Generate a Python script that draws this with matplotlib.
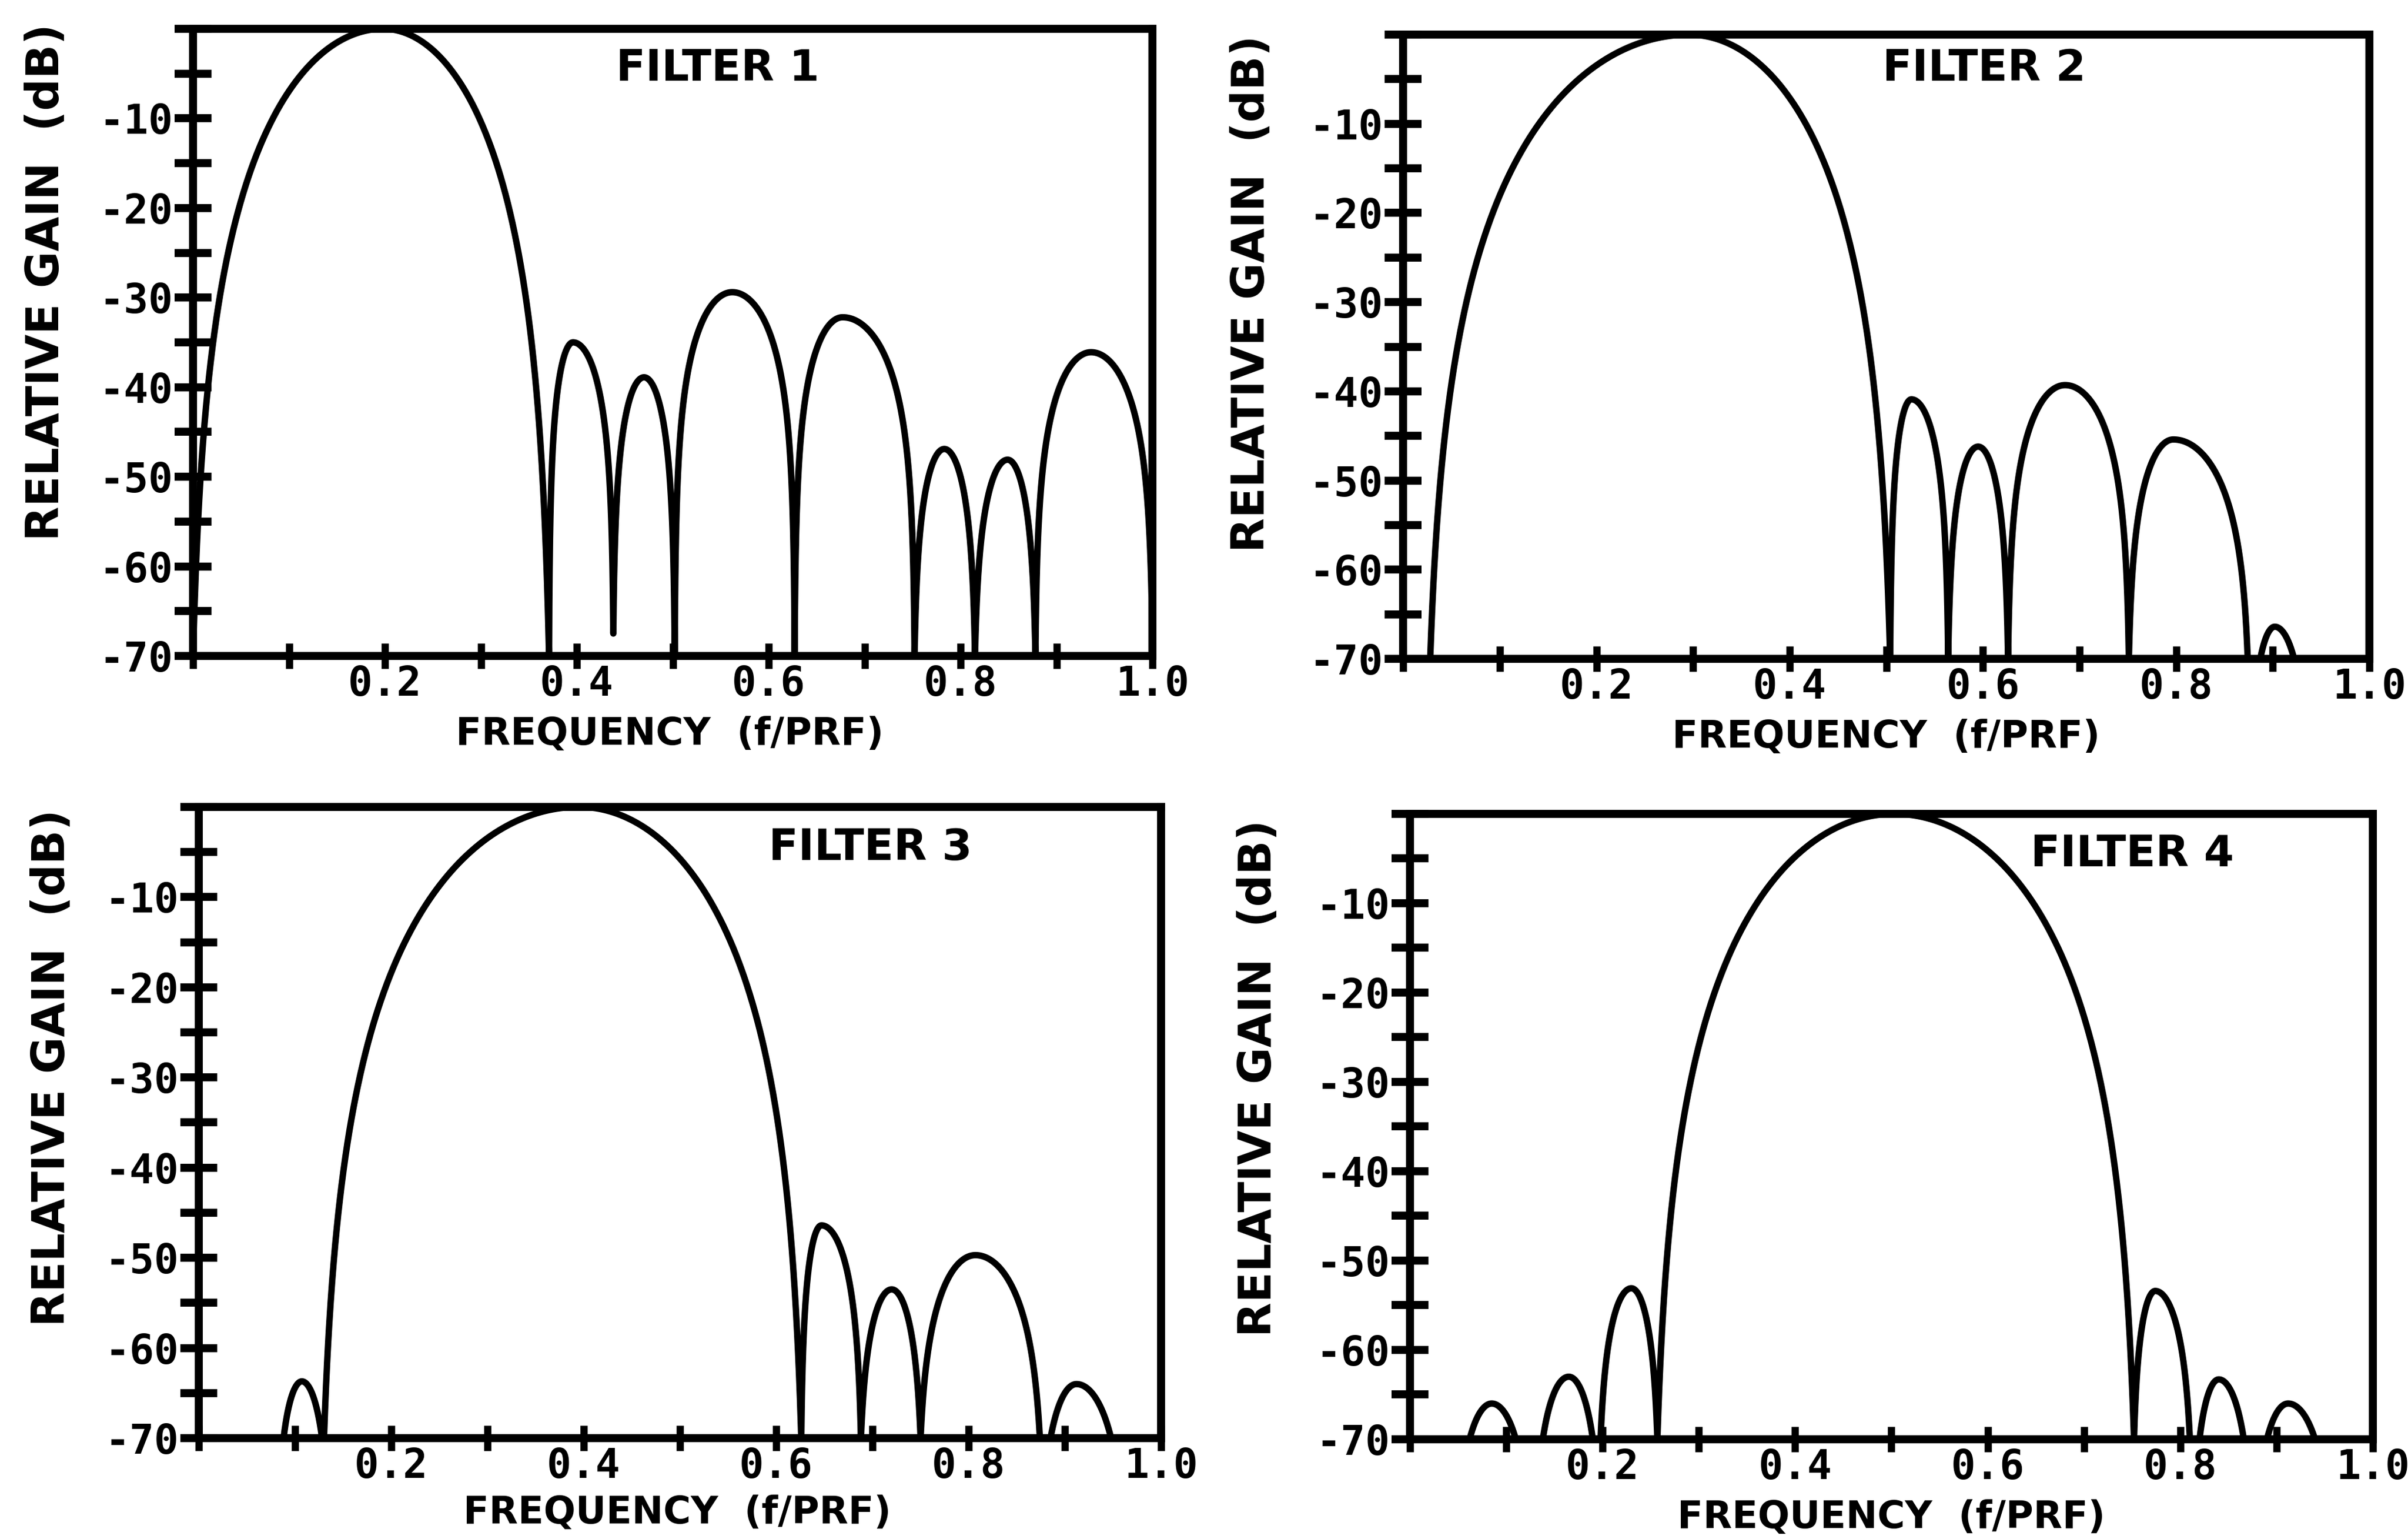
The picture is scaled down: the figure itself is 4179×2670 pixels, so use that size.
import numpy as np
import matplotlib
matplotlib.use('Agg')
import matplotlib.pyplot as plt

plt.rcParams['font.family'] = ['DejaVu Sans Mono']
plt.rcParams['font.weight'] = 'bold'

# Lóbulos:
# inicio / fin = donde la curva toca el piso de -70 dB (o el nulo), pico = posición y nivel
titulos = ['FILTER 1', 'FILTER 2', 'FILTER 3', 'FILTER 4']

f1_inicio = [0.000, 0.371, 0.438, 0.502, 0.627, 0.752, 0.815, 0.878]
f1_fin = [0.371, 0.438, 0.502, 0.627, 0.752, 0.815, 0.878, 1.000]
f1_pico_x = [0.198, 0.396, 0.470, 0.562, 0.677, 0.783, 0.849, 0.936]
f1_pico_db = [0.0, -35.0, -38.9, -29.4, -32.2, -46.9, -48.1, -36.1]

f2_inicio = [0.028, 0.504, 0.564, 0.626, 0.751, 0.887]
f2_fin = [0.504, 0.564, 0.626, 0.751, 0.874, 0.922]
f2_pico_x = [0.296, 0.526, 0.595, 0.685, 0.797, 0.902]
f2_pico_db = [0.0, -40.9, -46.2, -39.3, -45.4, -66.4]

f3_inicio = [0.088, 0.130, 0.626, 0.688, 0.750, 0.885]
f3_fin = [0.128, 0.626, 0.688, 0.750, 0.874, 0.948]
f3_pico_x = [0.107, 0.395, 0.647, 0.720, 0.807, 0.912]
f3_pico_db = [-63.7, 0.0, -46.4, -53.5, -49.7, -64.0]

f4_inicio = [0.062, 0.138, 0.198, 0.257, 0.752, 0.820, 0.890]
f4_fin = [0.110, 0.190, 0.257, 0.752, 0.810, 0.866, 0.940]
f4_pico_x = [0.085, 0.165, 0.230, 0.503, 0.774, 0.840, 0.912]
f4_pico_db = [-66.0, -63.0, -53.1, 0.0, -53.4, -63.3, -66.0]

# nulos que no llegan al piso
f1_nulo_x = [0.438]
f1_nulo_db = [-67.5]

ticks_x = [0.0, 0.1, 0.2, 0.3, 0.4, 0.5, 0.6, 0.7, 0.8, 0.9, 1.0]
etiquetas_x = ['', '', '0.2', '', '0.4', '', '0.6', '', '0.8', '', '1.0']
ticks_y = [-70, -65, -60, -55, -50, -45, -40, -35, -30, -25, -20, -15, -10, -5, 0]
etiquetas_y = ['-70', '', '-60', '', '-50', '', '-40', '', '-30', '', '-20', '', '-10', '', '']

filtros = [
    (f1_inicio, f1_fin, f1_pico_x, f1_pico_db, f1_nulo_x, f1_nulo_db),
    (f2_inicio, f2_fin, f2_pico_x, f2_pico_db, [], []),
    (f3_inicio, f3_fin, f3_pico_x, f3_pico_db, [], []),
    (f4_inicio, f4_fin, f4_pico_x, f4_pico_db, [], []),
]

piso = -70.0
forma_principal = 2.5  # el lóbulo principal cae más rápido que un lóbulo lateral


def lado(x0, x1, yp, y_piso, p, hacia_pico):
    # medio lóbulo: sale del piso en x0 y llega al pico en x1 (o al revés)
    u0 = np.arcsin(10 ** ((y_piso - yp) / (20 * p))) / np.pi
    x = np.linspace(x0, x1, 500)
    if hacia_pico:
        u = u0 + (0.5 - u0) * (x - x0) / (x1 - x0)
    else:
        u = 0.5 + (0.5 - u0) * (x - x0) / (x1 - x0)
    y = yp + p * 20 * np.log10(np.clip(np.sin(np.pi * u), 1e-9, None))
    return x, np.maximum(y, y_piso)


def curva(inicio, fin, pico_x, pico_db, nulo_x, nulo_db):
    xs = [np.array([0.0])]
    ys = [np.array([piso])]
    for a, b, xp, yp in zip(inicio, fin, pico_x, pico_db):
        p = forma_principal if yp == 0 else 1.0
        piso_a = piso
        piso_b = piso
        for nx, nd in zip(nulo_x, nulo_db):
            if abs(nx - a) < 1e-6:
                piso_a = nd
            if abs(nx - b) < 1e-6:
                piso_b = nd
        x1, y1 = lado(a, xp, yp, piso_a, p, True)
        x2, y2 = lado(xp, b, yp, piso_b, p, False)
        xs += [x1, x2]
        ys += [y1, y2]
    xs.append(np.array([1.0]))
    ys.append(np.array([piso]))
    return np.concatenate(xs), np.concatenate(ys)


fig = plt.figure(figsize=(41.79, 26.70), dpi=100)

posiciones = [
    [0.0802, 0.5738, 0.3984, 0.4075],
    [0.5827, 0.5719, 0.4013, 0.4056],
    [0.0826, 0.0655, 0.3996, 0.4102],
    [0.5855, 0.0648, 0.3999, 0.4064],
]
pos_titulo = [(0.547, 0.936), (0.601, 0.945), (0.698, 0.935), (0.750, 0.935)]
pos_ylabel = [(-0.153, 0.596), (-0.157, 0.585), (-0.153, 0.587), (-0.157, 0.577)]
pos_xlabel = [(0.497, -0.125), (0.500, -0.126), (0.497, -0.119), (0.500, -0.125)]

for k in range(4):
    ax = fig.add_axes(posiciones[k])
    x, y = curva(*filtros[k])
    ax.plot(x, y, color='black', lw=8, solid_capstyle='round', solid_joinstyle='round')

    ax.set_xlim(0, 1)
    ax.set_ylim(-70, 0)
    ax.set_xticks(ticks_x)
    ax.set_xticklabels(etiquetas_x)
    ax.set_yticks(ticks_y)
    ax.set_yticklabels(etiquetas_y)
    ax.tick_params(axis='y', direction='inout', length=46, width=10, pad=2, labelsize=51)
    ax.tick_params(axis='x', direction='inout', length=31, width=9, pad=-5, labelsize=51)
    for s in ax.spines.values():
        s.set_linewidth(10)

    # textos en letra de palo ancha, como el trazador original
    ax.text(pos_titulo[k][0], pos_titulo[k][1], titulos[k], transform=ax.transAxes,
            ha='center', va='center', fontsize=54, family='DejaVu Sans')
    ax.text(pos_ylabel[k][0], pos_ylabel[k][1], 'RELATIVE GAIN  (dB)', transform=ax.transAxes,
            ha='center', va='center', rotation=90, fontsize=56, family='DejaVu Sans')
    ax.text(pos_xlabel[k][0], pos_xlabel[k][1], 'FREQUENCY  (f/PRF)', transform=ax.transAxes,
            ha='center', va='center', fontsize=47, family='DejaVu Sans')

plt.savefig('out.png', dpi=100, facecolor='white')
